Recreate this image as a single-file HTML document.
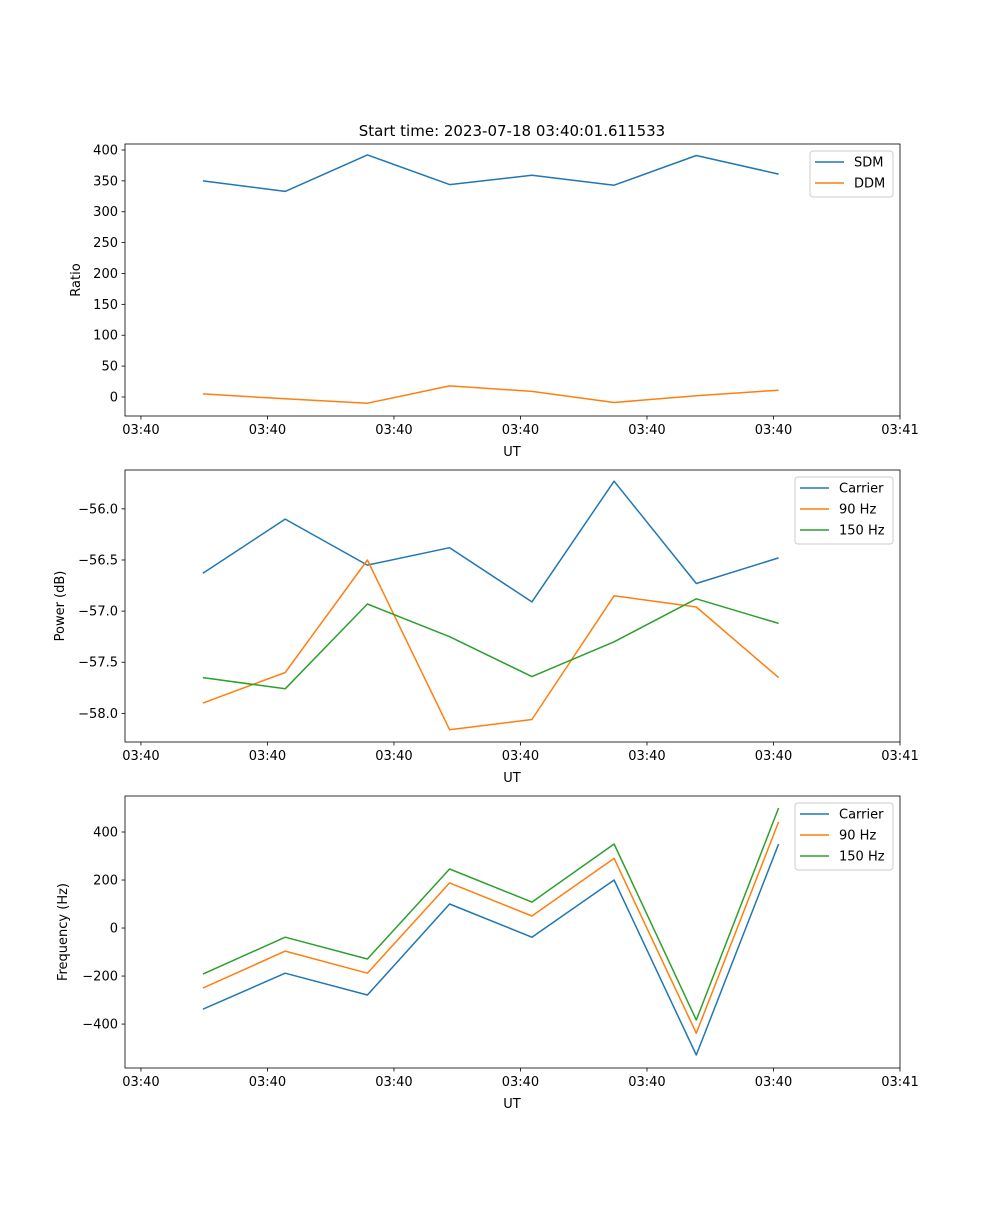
<!DOCTYPE html>
<html><head><meta charset="utf-8"><style>
body{margin:0;background:#fff}
svg text{font-family:"DejaVu Sans","Liberation Sans",sans-serif;font-size:13px;fill:#000}
</style></head><body>
<svg id="fig" width="1000" height="1200" xmlns="http://www.w3.org/2000/svg">
<rect width="1000" height="1200" fill="#fff"/>
<text x="512" y="136" text-anchor="middle" style="font-size:15px">Start time: 2023-07-18 03:40:01.611533</text>
</svg>
<script>
const xSeconds=[4.9,11.4,17.9,24.4,30.9,37.4,43.9,50.4];
const xTickVals=[0,10,20,30,40,50,60];
const xTickLabels=["03:40","03:40","03:40","03:40","03:40","03:40","03:41"];
const sdm=[350,333,392,344,359,343,391,361];
const ddm=[5,-3,-10,18,9,-9,2,11];
const ratioTicks=[0,50,100,150,200,250,300,350,400];
const powCarrier=[-56.63,-56.10,-56.55,-56.38,-56.91,-55.73,-56.73,-56.48];
const pow90=[-57.90,-57.60,-56.50,-58.16,-58.06,-56.85,-56.96,-57.65];
const pow150=[-57.65,-57.76,-56.93,-57.25,-57.64,-57.30,-56.88,-57.12];
const powTicks=[-58.0,-57.5,-57.0,-56.5,-56.0];
const freqCarrier=[-338,-188,-279,100,-38,200,-529,350];
const freq90=[-250,-96,-188,188,50,290,-438,442];
const freq150=[-192,-38,-129,246,108,350,-383,500];
const freqTicks=[-400,-200,0,200,400];

const NS="http://www.w3.org/2000/svg";
const svg=document.getElementById('fig');
function mk(tag,attrs,parent){const e=document.createElementNS(NS,tag);for(const k in attrs)e.setAttribute(k,attrs[k]);(parent||svg).appendChild(e);return e;}
const X0=125,X1=900,xmin=-1.26,xmax=60;
const xs=v=>X0+(v-xmin)/(xmax-xmin)*(X1-X0);
function fmt(v,dec){let s=v.toFixed(dec);return s.replace('-','\u2212');}
function panel(name,top,bot,ymin,ymax,ticks,dec,ylabel,ylx,series,legend){
  const g=mk('g',{});
  
  
  const ys=v=>bot-(v-ymin)/(ymax-ymin)*(bot-top);
  series.forEach(s=>{
    const pts=s.vals.map((v,i)=>xs(xSeconds[i]).toFixed(1)+','+ys(v).toFixed(1)).join(' ');
    const p=mk('polyline',{points:pts,fill:'none',stroke:s.color,'stroke-width':1.5,'stroke-linejoin':'round'},g);
    
    
  });
  const f=mk('rect',{x:X0,y:top,width:X1-X0,height:bot-top,fill:'none',stroke:'#000','stroke-width':0.8},g);
  
  
  xTickVals.forEach((v,i)=>{
    const x=xs(v);
    mk('line',{x1:x,x2:x,y1:bot,y2:bot+3.5,stroke:'#000','stroke-width':0.8},g);
    const t=mk('text',{x:x,y:bot+18,'text-anchor':'middle'},g);t.textContent=xTickLabels[i];
    
    
  });
  const xl=mk('text',{x:512,y:bot+40,'text-anchor':'middle'},g);xl.textContent='UT';
  
  
  ticks.forEach(v=>{
    const y=ys(v);
    mk('line',{x1:X0-3.5,x2:X0,y1:y,y2:y,stroke:'#000','stroke-width':0.8},g);
    const t=mk('text',{x:X0-7,y:y+4.5,'text-anchor':'end'},g);t.textContent=fmt(v,dec);
    
    
  });
  const yl=mk('text',{x:ylx,y:(top+bot)/2,'text-anchor':'middle',transform:`rotate(-90 ${ylx} ${(top+bot)/2})`},g);yl.textContent=ylabel;
  
  
  const lg=mk('g',{},g);
  
  
  mk('rect',{x:legend.x,y:legend.y,width:legend.w,height:legend.h,rx:3,fill:'#fff','fill-opacity':0.8,stroke:'#ccc','stroke-width':1},lg);
  series.forEach((s,i)=>{
    const y=legend.y+11+i*21;
    mk('line',{x1:legend.x+5,x2:legend.x+34,y1:y,y2:y,stroke:s.color,'stroke-width':1.5},lg);
    const t=mk('text',{x:legend.x+44,y:y+4.5},lg);t.textContent=s.label;
    
    
  });
}
const C1='#1f77b4',C2='#ff7f0e',C3='#2ca02c';
panel('ratio-panel',144,416,-30.8,409.7,ratioTicks,0,'Ratio',80,
  [{id:'sdm',label:'SDM',vals:sdm,color:C1},{id:'ddm',label:'DDM',vals:ddm,color:C2}],
  {x:810,y:151,w:83,h:46});
panel('power-panel',470,742,-58.28,-55.62,powTicks,1,'Power (dB)',64,
  [{id:'power-carrier',label:'Carrier',vals:powCarrier,color:C1},{id:'power-90hz',label:'90 Hz',vals:pow90,color:C2},{id:'power-150hz',label:'150 Hz',vals:pow150,color:C3}],
  {x:795,y:477,w:98,h:67});
panel('frequency-panel',796,1068,-583,550,freqTicks,0,'Frequency (Hz)',67,
  [{id:'freq-carrier',label:'Carrier',vals:freqCarrier,color:C1},{id:'freq-90hz',label:'90 Hz',vals:freq90,color:C2},{id:'freq-150hz',label:'150 Hz',vals:freq150,color:C3}],
  {x:795,y:803,w:98,h:67});
</script>
</body></html>
